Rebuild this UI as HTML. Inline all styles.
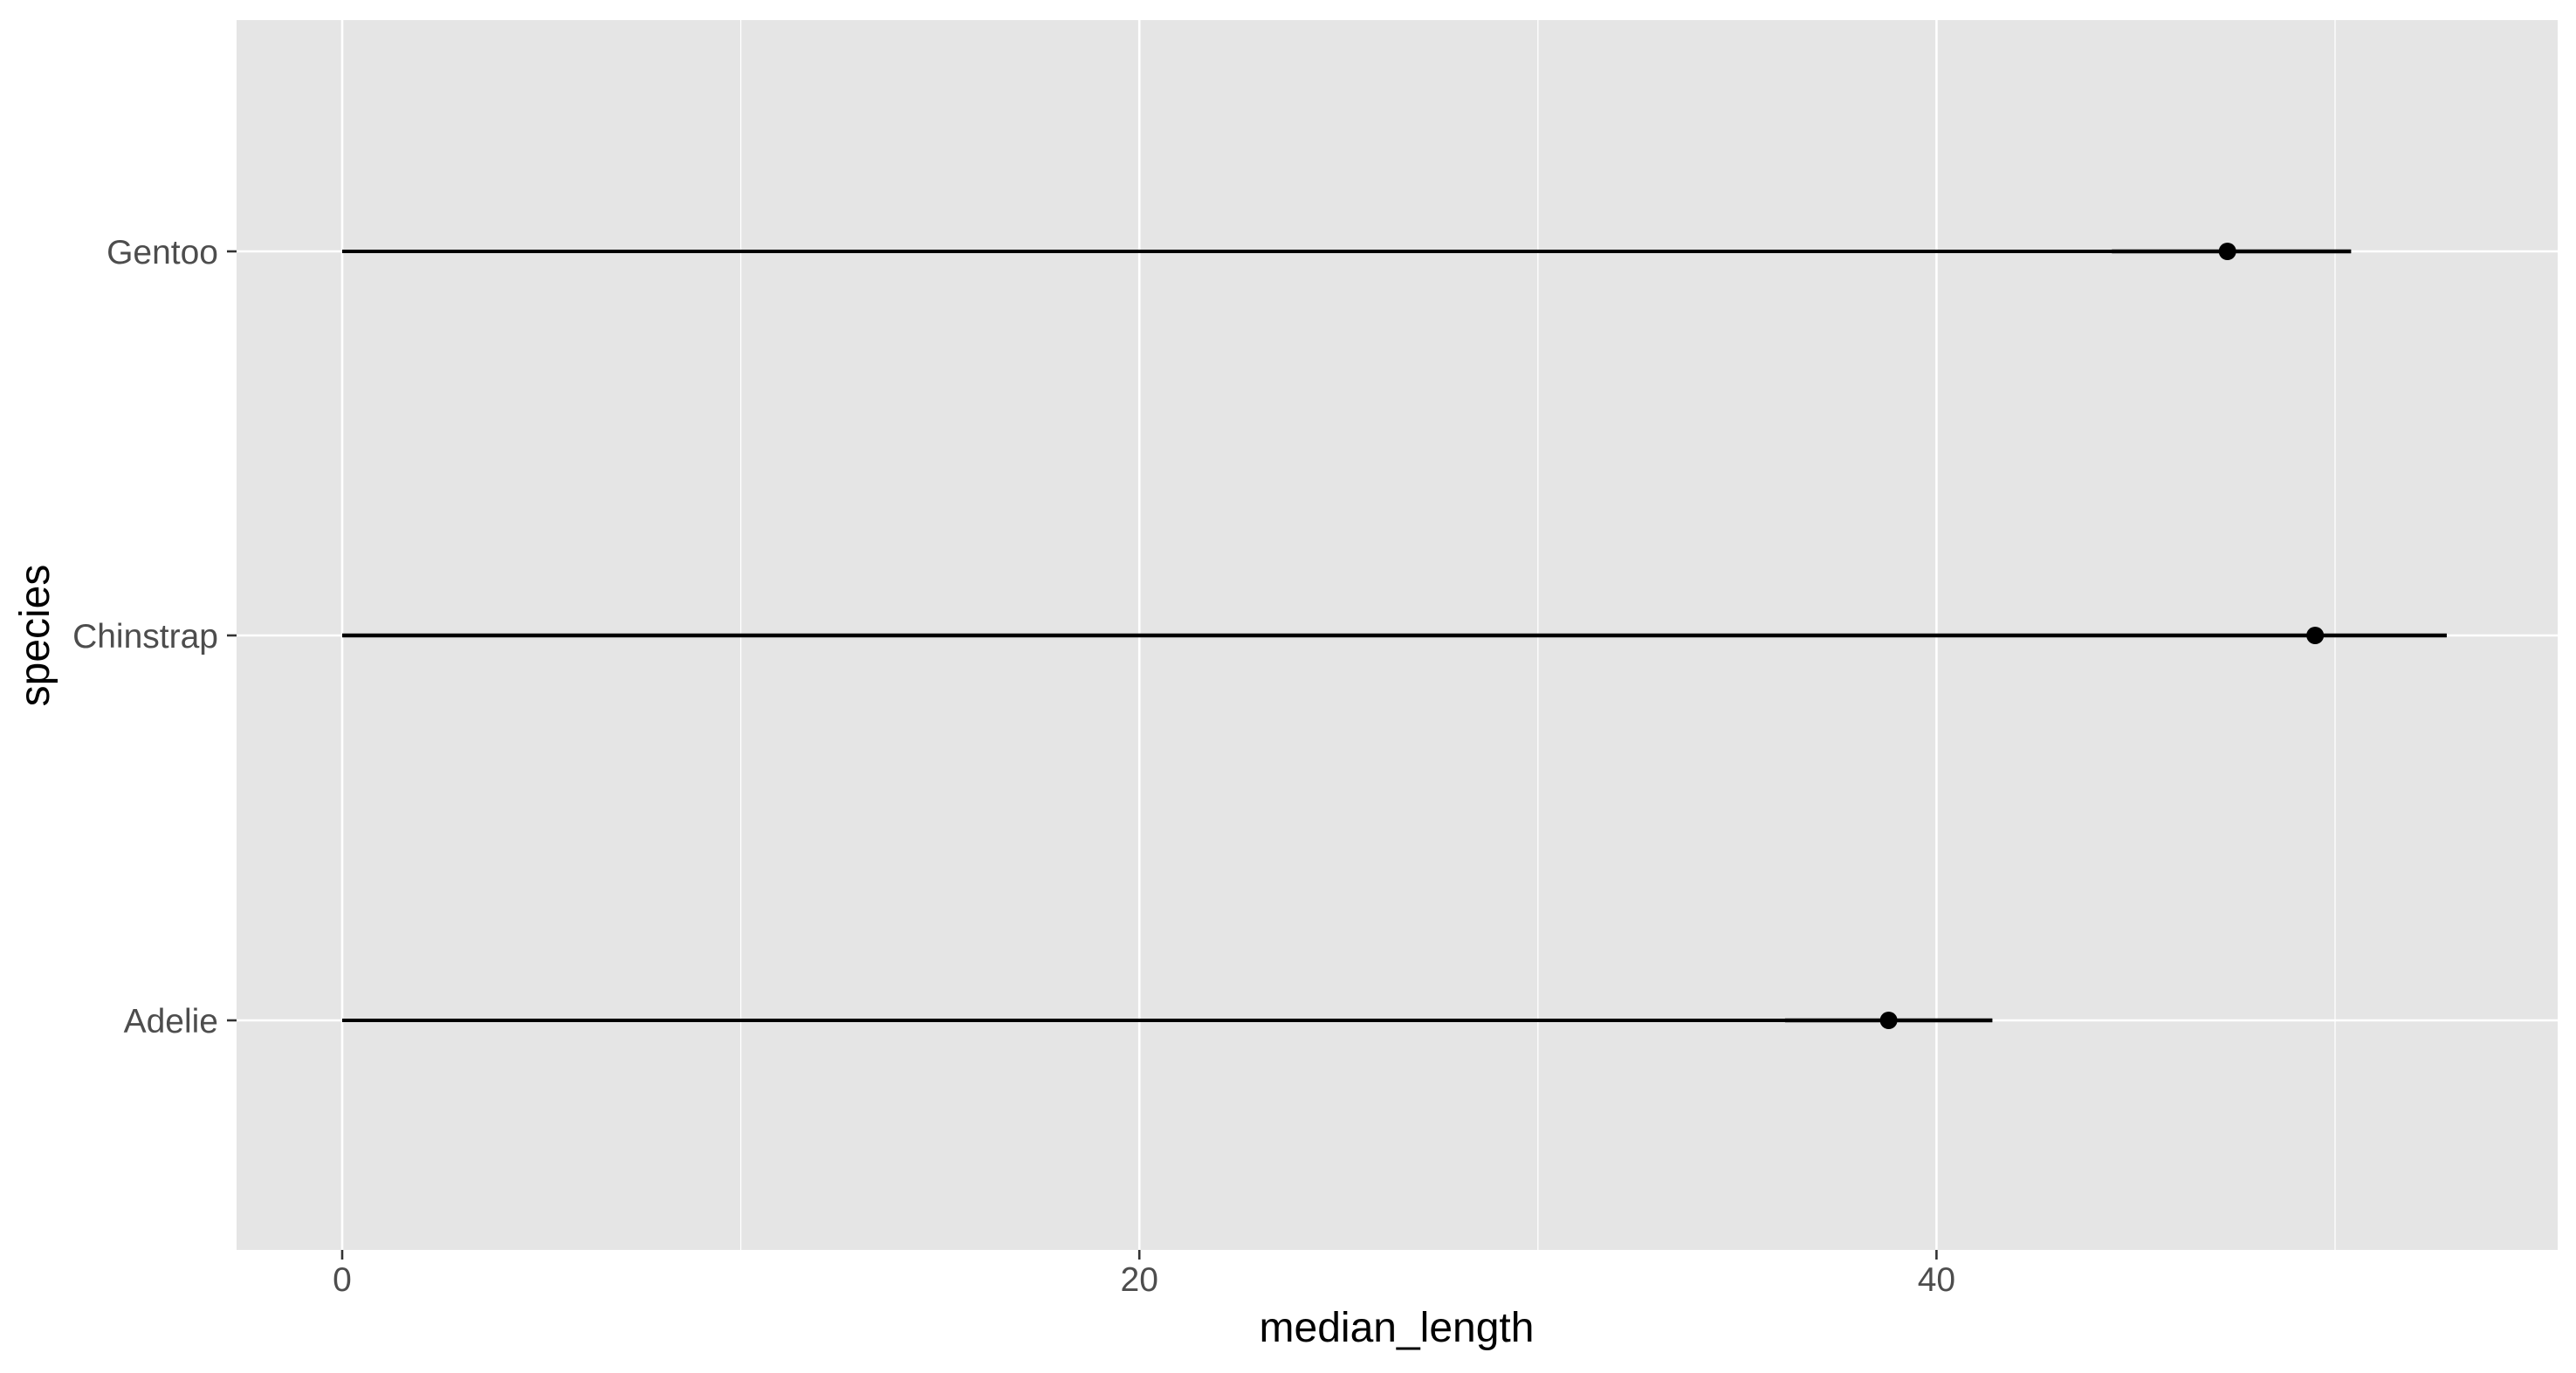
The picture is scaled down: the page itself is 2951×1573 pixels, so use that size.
<!DOCTYPE html>
<html><head><meta charset="utf-8"><style>
html,body{margin:0;padding:0;background:#fff;}
svg{display:block;font-family:"Liberation Sans",Arial,sans-serif;}
</style></head><body>
<svg id="chart" width="2951" height="1573" viewBox="0 0 2951 1573" xmlns="http://www.w3.org/2000/svg">
<rect x="271" y="23" width="2659" height="1409" fill="#e5e5e5"/>
<g id="grid"></g><g id="marks"></g><g id="axes"></g>
<text x="1600" y="1537" font-size="48" text-anchor="middle" fill="#000">median_length</text>
<text transform="translate(56,728) rotate(-90)" font-size="48" text-anchor="middle" fill="#000">species</text>
</svg>
<script>
const categories = ["Adelie","Chinstrap","Gentoo"];
const medianValues = [38.8, 49.5, 47.3];
const maxValues = [41.4, 52.8, 50.4];
const lowerValues = [36.2, 0, 44.4];
const xTicks = [0,20,40];
const xMinorTicks = [10,30,50];
const NS="http://www.w3.org/2000/svg";
const x = v => 392 + v*45.66;
const yPos = {Adelie:1169, Chinstrap:728, Gentoo:288};
const y = c => yPos[c];
function mk(tag, attrs, parent){const e=document.createElementNS(NS,tag);for(const k in attrs)e.setAttribute(k,attrs[k]);document.getElementById(parent).appendChild(e);return e;}
xMinorTicks.forEach(t=>{const l=mk('line',{x1:x(t),x2:x(t),y1:23,y2:1432,stroke:'#fff','stroke-width':1.3},'grid');

});
xTicks.forEach(t=>{const l=mk('line',{x1:x(t),x2:x(t),y1:23,y2:1432,stroke:'#fff','stroke-width':2.6},'grid');


const tk=mk('line',{x1:x(t),x2:x(t),y1:1432,y2:1443,stroke:'#333','stroke-width':2.6},'axes');


const tx=mk('text',{x:x(t),y:1479,'font-size':39,'text-anchor':'middle',fill:'#4d4d4d'},'axes');tx.textContent=t;

});
categories.forEach((c,i)=>{
const g=mk('line',{x1:271,x2:2930,y1:y(c),y2:y(c),stroke:'#fff','stroke-width':2.6},'grid');


const tk=mk('line',{x1:260,x2:271,y1:y(c),y2:y(c),stroke:'#333','stroke-width':2.6},'axes');


const tx=mk('text',{x:250,y:y(c)+14,'font-size':39,'text-anchor':'end',fill:'#4d4d4d'},'axes');tx.textContent=c;


const s=mk('line',{x1:x(0),x2:x(maxValues[i]),y1:y(c),y2:y(c),stroke:'#000','stroke-width':4},'marks');


const r=mk('line',{x1:x(lowerValues[i]),x2:x(maxValues[i]),y1:y(c),y2:y(c),stroke:'#000','stroke-width':4.4},'marks');


const p=mk('circle',{cx:x(medianValues[i]),cy:y(c),r:10,fill:'#000'},'marks');


});
</script>
</body></html>
